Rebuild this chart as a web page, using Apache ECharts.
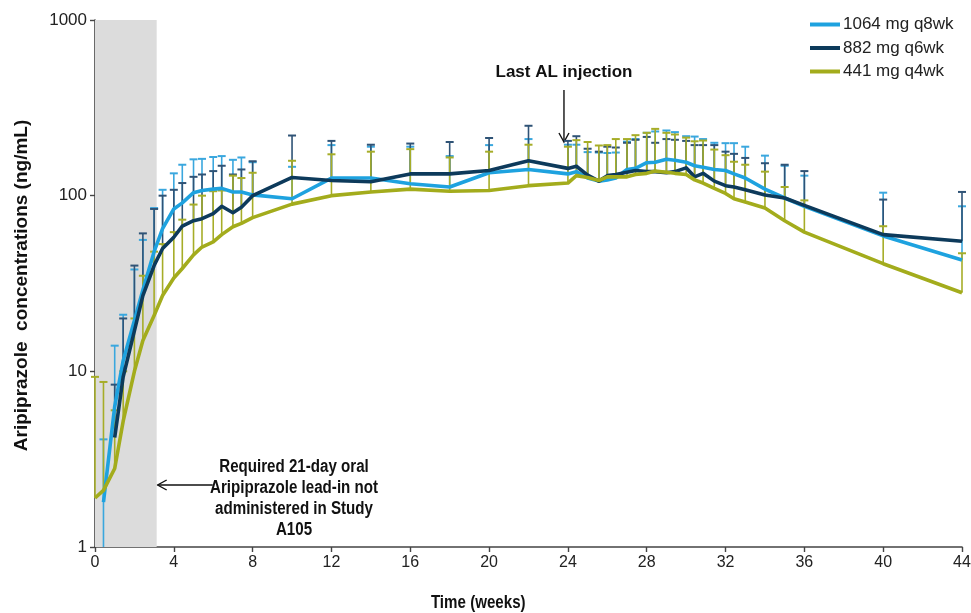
<!DOCTYPE html>
<html>
<head>
<meta charset="utf-8">
<script src="https://cdn.jsdelivr.net/npm/echarts@6/dist/echarts.min.js"></script>
<style>html,body{margin:0;padding:0;background:#fff}#main{width:971px;height:613px}</style>
</head>
<body>
<div id="main"></div>
<script>
// Time points (weeks)
const weeks = [0, 0.43, 1, 1.43, 2, 2.43, 3, 3.43, 4, 4.43, 5, 5.43, 6, 6.43, 7, 7.43, 8,
  10, 12, 14, 16, 18, 20, 22,
  24, 24.43, 25, 25.57, 26, 26.43, 27, 27.43, 28, 28.43, 29, 29.43, 30, 30.43, 30.86, 31.43, 32, 32.43, 33, 34, 35, 36, 40, 44];

// Mean concentrations (ng/mL)
const mean1064 = [null, 1.8, 6.3, 11.5, 19.5, 29, 48, 65, 84, 91, 104, 107, 109, 110, 105, 105, 101,
  96, 126, 126, 117, 112, 135, 141,
  133, 137, 126, 121, 123, 126, 141, 143, 154, 155, 161, 159, 155, 148, 145, 141, 139, 133, 126, 109, 97, 87, 59, 43];
const mean882 = [null, null, 4.2, 9.3, 17, 27, 40, 50, 58, 67, 72, 74, 79, 87, 80, 86, 100,
  127, 122, 120, 133, 133, 139, 158,
  143, 147, 131, 121, 130, 132, 136, 139, 137, 137, 135, 137, 144, 128, 134, 121, 114, 112, 108, 101, 97, 88, 60, 55];
const mean441 = [1.9, 2.1, 2.8, 5.2, 10, 15, 20.8, 27, 34, 38.5, 46, 51, 54.5, 60, 66.5, 69.5, 75,
  89.5, 100, 105, 109, 106, 107, 114,
  118, 130, 127, 122, 128, 128, 128, 132, 134, 138, 136, 134, 132, 123, 118, 110, 103, 96, 92, 85, 72, 62, 41, 28];

// Upper error-bar ends (mean + SD)
const top1064 = [null, 4.1, 14, 21, 38, 56, 85, 108, 134, 150, 161, 162, 166, 168, 160, 165, 155,
  146, 194, 190, 190, 168, 194, 210,
  195, 195, 177, 176, 175, 176, 203, 210, 228, 232, 235, 230, 218, 217, 210, 200, 199, 199, 190, 169, 148, 130, 104, 87];
const top882 = [null, null, 8.4, 20, 40, 61, 84, 100, 108, 118, 128, 132, 138, 148, 132, 141, 157,
  220, 205, 195, 198, 202, 213, 250,
  205, 218, 185, 178, 190, 188, 200, 208, 216, 200, 210, 208, 205, 194, 194, 194, 178, 173, 164, 153, 150, 138, 95, 105];
const top441 = [9.3, 8.7, 6, 10, 20, 35, 48, 53, 62, 73, 89, 100, 106, 107, 130, 126, 135,
  158, 172, 178, 184, 165, 178, 195,
  190, 207, 202, 193, 194, 210, 210, 221, 228, 240, 228, 223, 214, 204, 206, 183, 170, 156, 150, 137, 112, 94, 67, 47];
// Lower error-bar end where mean - SD falls below the axis floor
const low1064 = [null, 1, null, null, null, null, null, null, null, null, null, null, null, null, null, null, null,
  null, null, null, null, null, null, null,
  null, null, null, null, null, null, null, null, null, null, null, null, null, null, null, null, null, null, null, null, null, null, null, null];

const seriesNames = ['1064 mg q8wk', '882 mg q6wk', '441 mg q4wk'];
const lineColors = ['#1EA2DF', '#0D3A5B', '#A3AC1C'];
const barColors = ['#3AA7DE', '#2F5376', '#A6AD28'];
const leadInWeeks = [0, 3.13];
const xTicks = {min: 0, max: 44, interval: 4};
const yRange = {min: 1, max: 1000};

const SANS = "'Liberation Sans', Arial, sans-serif";

function pairs(means) {
  const out = [];
  weeks.forEach((w, i) => { if (means[i] != null) out.push([w, means[i]]); });
  return out;
}
function errData(means, tops, lows) {
  const out = [];
  weeks.forEach((w, i) => {
    if (means[i] != null && tops[i] != null) {
      const lo = (lows && lows[i] != null) ? lows[i] : means[i];
      out.push([w, lo, tops[i]]);
    }
  });
  return out;
}
function errSeries(idx, means, tops, lows, z) {
  const color = barColors[idx];
  return {
    type: 'custom', name: seriesNames[idx] + ' SD', z: z, silent: true,
    data: errData(means, tops, lows),
    encode: {x: 0, y: [1, 2]},
    renderItem: function (params, api) {
      const x = api.value(0);
      const lo = api.coord([x, api.value(1)]);
      const hi = api.coord([x, api.value(2)]);
      const cw = 4;
      return {
        type: 'group', children: [
          {type: 'line', shape: {x1: lo[0], y1: lo[1], x2: hi[0], y2: hi[1]}, style: {stroke: color, lineWidth: 1.6}},
          {type: 'line', shape: {x1: hi[0] - cw, y1: hi[1], x2: hi[0] + cw, y2: hi[1]}, style: {stroke: color, lineWidth: 2}}
        ]
      };
    }
  };
}
function lineSeries(idx, means, z) {
  return {
    type: 'line', name: seriesNames[idx], z: z, data: pairs(means),
    showSymbol: false, symbol: 'none', silent: true,
    lineStyle: {color: lineColors[idx], width: 3.6, join: 'round'},
    itemStyle: {color: lineColors[idx]}
  };
}

const chart = echarts.init(document.getElementById('main'), null, {renderer: 'canvas'});
const option = {
  animation: false,
  backgroundColor: '#fff',
  grid: {left: 95, right: 9, top: 20, bottom: 66, containLabel: false, outerBoundsMode: 'none'},
  legend: {
    orient: 'vertical', left: 810, top: 16, itemGap: 6.5, padding: 0,
    itemWidth: 30, itemHeight: 4, icon: 'rect',
    textStyle: {fontSize: 17, color: '#222', fontFamily: SANS, padding: [0, 0, 0, -2]},
    data: seriesNames
  },
  xAxis: {
    type: 'value', min: xTicks.min, max: xTicks.max, interval: xTicks.interval,
    splitLine: {show: false},
    axisLine: {show: true, onZero: false, lineStyle: {color: '#444', width: 1.6}},
    axisTick: {show: true, length: 5, lineStyle: {color: '#444', width: 1.4}},
    axisLabel: {fontSize: 16, color: '#222', fontFamily: SANS, margin: 8}
  },
  yAxis: {
    type: 'log', logBase: 10, min: yRange.min, max: yRange.max,
    splitLine: {show: false}, minorTick: {show: false},
    axisLine: {show: true, lineStyle: {color: '#444', width: 1.6}},
    axisTick: {show: true, length: 5, lineStyle: {color: '#444', width: 1.4}},
    axisLabel: {fontSize: 17, color: '#222', fontFamily: SANS, margin: 8, formatter: (v) => String(v)}
  },
  series: [
    {
      type: 'line', name: 'lead-in', data: [], z: 0, silent: true,
      markArea: {
        silent: true,
        itemStyle: {color: '#DCDCDC'},
        data: [[{xAxis: leadInWeeks[0], yAxis: yRange.min}, {xAxis: leadInWeeks[1], yAxis: yRange.max}]]
      }
    },
    errSeries(0, mean1064, top1064, low1064, 1),
    errSeries(1, mean882, top882, null, 1),
    errSeries(2, mean441, top441, null, 1),
    lineSeries(0, mean1064, 3),
    lineSeries(1, mean882, 4),
    lineSeries(2, mean441, 5)
  ]
};
chart.setOption(option);

// Annotations anchored to data coordinates
const px = (x, y) => chart.convertToPixel({gridIndex: 0}, [x, y]);
const lastInj = px(23.8, 1);
const yAt = (v) => px(0, v)[1];
const gridBottom = yAt(1);
const gridTop = yAt(1000);
const leadEdge = px(leadInWeeks[1], 1)[0];
const arrowY = gridBottom - 62;
const g = [];
// Last AL injection
g.push({type: 'text', x: lastInj[0], y: gridTop + 52,
  style: {text: 'Last AL injection', fill: '#111', font: 'bold 17px ' + SANS, textAlign: 'center', textVerticalAlign: 'middle'}});
g.push({type: 'line', shape: {x1: lastInj[0], y1: gridTop + 70, x2: lastInj[0], y2: gridTop + 122}, style: {stroke: '#111', lineWidth: 1.4}});
g.push({type: 'polyline', shape: {points: [[lastInj[0] - 5, gridTop + 113], [lastInj[0], gridTop + 122], [lastInj[0] + 5, gridTop + 113]]}, style: {stroke: '#111', lineWidth: 1.4, fill: null}});
// Lead-in note
g.push({type: 'text', x: px(10.1, 1)[0], y: gridBottom - 48.5, scaleX: 0.84,
  style: {text: 'Required 21-day oral\nAripiprazole lead-in not\nadministered in Study\nA105', fill: '#111', font: 'bold 18px ' + SANS, textAlign: 'center', textVerticalAlign: 'middle', lineHeight: 21}});
g.push({type: 'line', shape: {x1: leadEdge + 1, y1: arrowY, x2: leadEdge + 56, y2: arrowY}, style: {stroke: '#111', lineWidth: 1.4}});
g.push({type: 'polyline', shape: {points: [[leadEdge + 10, arrowY - 5], [leadEdge + 1, arrowY], [leadEdge + 10, arrowY + 5]]}, style: {stroke: '#111', lineWidth: 1.4, fill: null}});
// Axis titles
g.push({type: 'text', x: px(19.45, 1)[0], y: gridBottom + 56, scaleX: 0.84,
  style: {text: 'Time (weeks)', fill: '#111', font: 'bold 18px ' + SANS, textAlign: 'center', textVerticalAlign: 'middle'}});
g.push({type: 'text', x: 22, y: (gridTop + gridBottom) / 2 + 2, rotation: Math.PI / 2,
  style: {text: 'Aripiprazole  concentrations (ng/mL)', fill: '#111', font: 'bold 19px ' + SANS, textAlign: 'center', textVerticalAlign: 'middle'}});
chart.setOption({graphic: g});
</script>
</body>
</html>
